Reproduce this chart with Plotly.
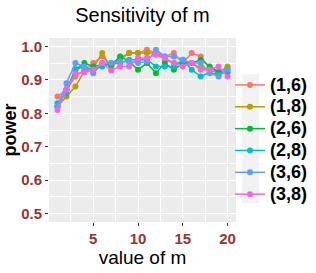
import plotly.graph_objects as go

m_values = list(range(1, 21))
series_names = ["(1,6)", "(1,8)", "(2,6)", "(2,8)", "(3,6)", "(3,8)"]
power_16 = [0.85, 0.87, 0.91, 0.93, 0.95, 0.97, 0.94, 0.96, 0.98, 0.98, 0.99, 0.98, 0.97, 0.98, 0.95, 0.98, 0.97, 0.935, 0.925, 0.935]
power_18 = [0.82, 0.85, 0.88, 0.925, 0.935, 0.98, 0.935, 0.965, 0.98, 0.98, 0.98, 0.98, 0.96, 0.95, 0.95, 0.95, 0.935, 0.93, 0.92, 0.94]
power_26 = [0.82, 0.87, 0.93, 0.95, 0.94, 0.945, 0.945, 0.97, 0.955, 0.93, 0.95, 0.92, 0.95, 0.93, 0.95, 0.95, 0.96, 0.94, 0.922, 0.922]
power_28 = [0.83, 0.86, 0.932, 0.938, 0.93, 0.94, 0.95, 0.95, 0.96, 0.96, 0.96, 0.94, 0.94, 0.94, 0.96, 0.93, 0.91, 0.922, 0.915, 0.93]
power_36 = [0.82, 0.89, 0.95, 0.94, 0.92, 0.95, 0.95, 0.955, 0.955, 0.95, 0.955, 0.99, 0.97, 0.97, 0.96, 0.95, 0.95, 0.92, 0.91, 0.93]
power_38 = [0.81, 0.87, 0.92, 0.922, 0.93, 0.95, 0.928, 0.94, 0.94, 0.965, 0.965, 0.975, 0.965, 0.95, 0.94, 0.95, 0.93, 0.93, 0.94, 0.91]

series_values = [power_16, power_18, power_26, power_28, power_36, power_38]
colors = ["#F8766D", "#B79F00", "#00BA38", "#00BFC4", "#619CFF", "#F564E3"]

fig = go.Figure()
for name, vals, col in zip(series_names, series_values, colors):
    fig.add_trace(go.Scatter(
        x=m_values, y=vals,
        name="<span style='font-size:18px'>" + name + "</span>",
        mode="lines+markers",
        line=dict(color=col, width=1.5),
        marker=dict(color=col, size=6),
    ))

base_font = "Liberation Sans, Arial"
tick_font = dict(family=base_font, size=15, color="#993333", weight="bold")

fig.update_layout(
    width=316, height=273,
    margin=dict(l=49, r=80, t=38, b=51, autoexpand=False),
    paper_bgcolor="white",
    plot_bgcolor="#EBEBEB",
    title=dict(text="Sensitivity of m", x=0.5, xanchor="center", xref="paper",
               yref="container", y=1 - 15 / 273, yanchor="middle",
               font=dict(family=base_font, size=20, color="black")),
    xaxis=dict(
        range=[0.05, 20.95], tickvals=[5, 10, 15, 20], automargin=False,
        showgrid=True, gridcolor="white", gridwidth=1.3,
        minor=dict(tickvals=[2.5, 7.5, 12.5, 17.5], showgrid=True, gridcolor="white", gridwidth=0.6),
        ticks="outside", ticklen=3, tickcolor="#333333",
        tickfont=tick_font, zeroline=False,
        title=dict(text="value of m", standoff=4,
                   font=dict(family=base_font, size=19, color="black")),
    ),
    yaxis=dict(
        range=[0.475, 1.025], tickvals=[0.5, 0.6, 0.7, 0.8, 0.9, 1.0], automargin=False,
        ticktext=["0.5", "0.6", "0.7", "0.8", "0.9", "1.0"],
        showgrid=True, gridcolor="white", gridwidth=1.3,
        minor=dict(tickvals=[0.55, 0.65, 0.75, 0.85, 0.95], showgrid=True, gridcolor="white", gridwidth=0.6),
        ticks="outside", ticklen=3, tickcolor="#333333",
        tickfont=tick_font, zeroline=False,
        title=dict(text="<b>power</b>", standoff=2,
                   font=dict(family=base_font, size=18, color="black")),
    ),
    legend=dict(
        x=(230 - 49) / 187, xanchor="left", y=(222 - 140) / 184, yanchor="middle",
        font=dict(family=base_font, size=14.5, color="black", weight="bold"),
        bgcolor="rgba(0,0,0,0)", itemwidth=30, tracegroupgap=0,
    ),
    shapes=[dict(type="rect", xref="paper", yref="paper",
                 x0=(242 - 49) / 187, x1=(259 - 49) / 187,
                 y0=(222 - 203) / 184, y1=(222 - 74) / 184,
                 fillcolor="#F2F2F2", line=dict(width=0), layer="below")],
)

fig.write_html("out.html", config={"displayModeBar": False},
               post_script="document.body.style.margin='0';document.body.style.padding='0';")
